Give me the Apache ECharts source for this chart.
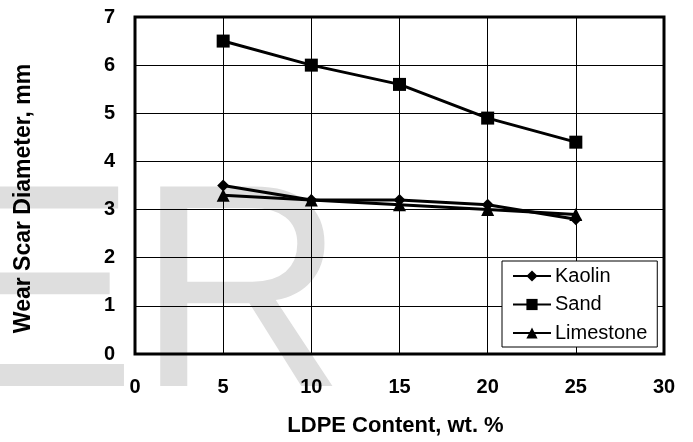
<!DOCTYPE html>
<html>
<head>
<meta charset="utf-8">
<script src="https://cdn.jsdelivr.net/npm/echarts@6/dist/echarts.min.js"></script>
<style>
  html, body { margin: 0; padding: 0; background: #fff; }
  #chart { width: 693px; height: 442px; }
</style>
</head>
<body>
<div id="chart"></div>
<script>
// LDPE content (wt. %)
const ldpeContent = [5, 10, 15, 20, 25];
// wear scar diameter (mm)
const kaolin = [3.5, 3.2, 3.2, 3.1, 2.8];
const sand = [6.5, 6.0, 5.6, 4.9, 4.4];
const limestone = [3.3, 3.2, 3.1, 3.0, 2.9];

const seriesNames = ['Kaolin', 'Sand', 'Limestone'];
const seriesValues = [kaolin, sand, limestone];
const seriesSymbols = ['diamond', 'rect', 'triangle'];
const symbolSizes = [12, 13, 13];

const FONT = '"Liberation Sans", Arial, sans-serif';

const chart = echarts.init(document.getElementById('chart'), null, { renderer: 'canvas' });

const option = {
  animation: false,
  backgroundColor: '#fff',
  // faint watermark behind the plot
  graphic: [{
    type: 'text',
    z: -10,
    silent: true,
    style: {
      text: 'ER',
      x: -57,
      y: 306,
      font: 'normal 290px ' + FONT,
      fill: '#dedede',
      verticalAlign: 'middle',
    },
  }],
  grid: {
    left: 135,
    right: 29,
    top: 17,
    bottom: 88,
    show: true,
    borderColor: '#000',
    borderWidth: 3,
  },
  legend: {
    orient: 'vertical',
    left: 502,
    top: 261,
    padding: [5, 10, 4, 10],
    itemWidth: 38,
    itemHeight: 14,
    itemGap: 8.5,
    borderColor: '#000',
    borderWidth: 1,
    backgroundColor: '#fff',
    textStyle: {
      fontFamily: FONT,
      fontSize: 20,
      lineHeight: 20,
      color: '#000',
      padding: [0, 0, 0, -1],
    },
    data: seriesNames,
  },
  xAxis: {
    type: 'value',
    min: 0,
    max: 30,
    interval: 5,
    name: 'LDPE Content, wt. %',
    nameLocation: 'middle',
    nameGap: 61,
    nameTextStyle: {
      fontFamily: FONT, fontSize: 22, fontWeight: 'bold', color: '#000',
      padding: [0, 8, 0, 0],
    },
    axisLine: { show: false },
    axisTick: { show: false },
    axisLabel: { fontFamily: FONT, fontSize: 20, fontWeight: 'bold', color: '#000', margin: 23 },
    splitLine: { lineStyle: { color: '#000', width: 1 } },
  },
  yAxis: {
    type: 'value',
    min: 0,
    max: 7,
    interval: 1,
    name: 'Wear Scar Diameter, mm',
    nameLocation: 'middle',
    nameGap: 100,
    nameTextStyle: {
      fontFamily: FONT, fontSize: 23, fontWeight: 'bold', color: '#000',
      padding: [0, 26, 0, 0], // nudges the title a little lower, as in the source
    },
    axisLine: { show: false },
    axisTick: { show: false },
    axisLabel: { fontFamily: FONT, fontSize: 20, fontWeight: 'bold', color: '#000', margin: 20 },
    splitLine: { lineStyle: { color: '#000', width: 1 } },
  },
  series: seriesNames.map((name, i) => ({
    name,
    type: 'line',
    data: ldpeContent.map((x, j) => [x, seriesValues[i][j]]),
    symbol: seriesSymbols[i],
    symbolSize: symbolSizes[i],
    showAllSymbol: true,
    lineStyle: { color: '#000', width: 3 },
    itemStyle: { color: '#000', borderWidth: 0 },
  })),
};

chart.setOption(option);
</script>
</body>
</html>
